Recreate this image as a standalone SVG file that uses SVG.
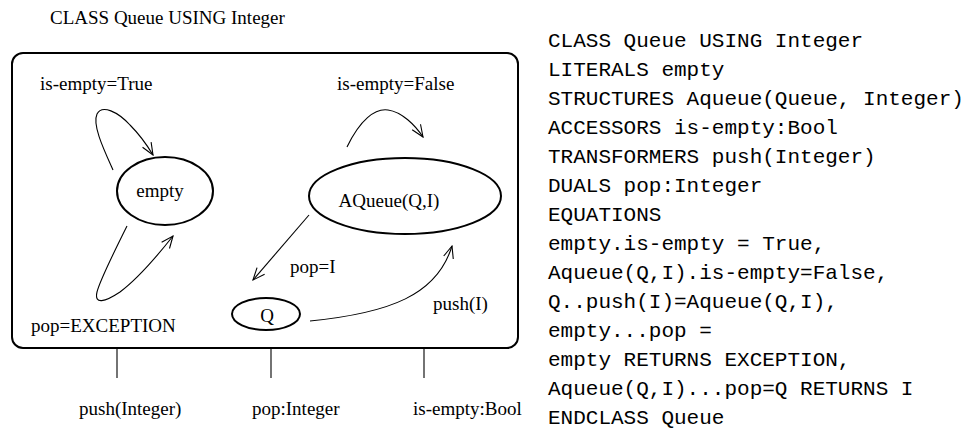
<svg xmlns="http://www.w3.org/2000/svg" width="964" height="430" viewBox="0 0 964 430">
<style>
.s{font-family:"Liberation Serif","Times New Roman",serif;font-size:19px;fill:#000}
.m{font-family:"Liberation Mono","Courier New",monospace;font-size:21px;fill:#000}
.node{fill:none;stroke:#000;stroke-width:2}
.c{fill:none;stroke:#000;stroke-width:1.1}
</style>
<defs>
<marker id="ah" viewBox="0 0 14 12" refX="13" refY="6" markerWidth="14" markerHeight="12" markerUnits="userSpaceOnUse" orient="auto">
<path d="M1,1 L13,6 L1,11" fill="none" stroke="#000" stroke-width="1.1"/>
</marker>
</defs>
<rect width="964" height="430" fill="#fff"/>
<text class="s" x="50" y="24">CLASS Queue USING Integer</text>
<g id="class-box">
<rect x="12" y="53" width="506" height="295" rx="11" fill="none" stroke="#000" stroke-width="2"/>
</g>
<g id="empty">
<ellipse class="node" cx="165" cy="191" rx="48" ry="34"/>
<text class="s" x="160" y="197" text-anchor="middle">empty</text>
</g>
<g id="aqueue">
<ellipse class="node" cx="405" cy="196" rx="96" ry="38"/>
<text class="s" x="389" y="207" text-anchor="middle">AQueue(Q,I)</text>
</g>
<g id="q">
<ellipse class="node" cx="266" cy="314" rx="34" ry="16"/>
<text class="s" x="267" y="322" text-anchor="middle">Q</text>
</g>
<g id="connectors">
<path class="c" d="M113,170 C104,150 92,125 97,114 C102,104 118,112 130,125 C140,135 147,145 153,155" marker-end="url(#ah)"/>
<path class="c" d="M127,226 C115,250 100,280 97,292 C94,305 105,302 120,292 C140,277 158,255 173,236" marker-end="url(#ah)"/>
<path class="c" d="M347,147 C360,120 375,108 388,110 C402,112 415,125 423,137" marker-end="url(#ah)"/>
<path class="c" d="M309,215 L253,280" marker-end="url(#ah)"/>
<path class="c" d="M310,321 C390,313 437,295 452,246" marker-end="url(#ah)"/>
<line class="c" x1="117" y1="348" x2="117" y2="378" stroke-width="1.6"/>
<line class="c" x1="271" y1="348" x2="271" y2="378" stroke-width="1.6"/>
<line class="c" x1="424" y1="348" x2="424" y2="378" stroke-width="1.6"/>
</g>
<g id="labels">
<text class="s" x="40" y="90">is-empty=True</text>
<text class="s" x="337" y="90">is-empty=False</text>
<text class="s" x="290" y="273">pop=I</text>
<text class="s" x="433" y="310">push(I)</text>
<text class="s" x="31" y="332">pop=EXCEPTION</text>
<text class="s" x="79" y="415">push(Integer)</text>
<text class="s" x="252" y="415">pop:Integer</text>
<text class="s" x="413" y="415">is-empty:Bool</text>
</g>
<g id="spec">
<text class="m" x="548" y="47">CLASS Queue USING Integer</text>
<text class="m" x="548" y="76">LITERALS empty</text>
<text class="m" x="548" y="105">STRUCTURES Aqueue(Queue, Integer)</text>
<text class="m" x="548" y="134">ACCESSORS is-empty:Bool</text>
<text class="m" x="548" y="163">TRANSFORMERS push(Integer)</text>
<text class="m" x="548" y="192">DUALS pop:Integer</text>
<text class="m" x="548" y="221">EQUATIONS</text>
<text class="m" x="548" y="250">empty.is-empty = True,</text>
<text class="m" x="548" y="279">Aqueue(Q,I).is-empty=False,</text>
<text class="m" x="548" y="308">Q..push(I)=Aqueue(Q,I),</text>
<text class="m" x="548" y="337">empty...pop =</text>
<text class="m" x="548" y="366">empty RETURNS EXCEPTION,</text>
<text class="m" x="548" y="395">Aqueue(Q,I)...pop=Q RETURNS I</text>
<text class="m" x="548" y="424">ENDCLASS Queue</text>
</g>
</svg>
